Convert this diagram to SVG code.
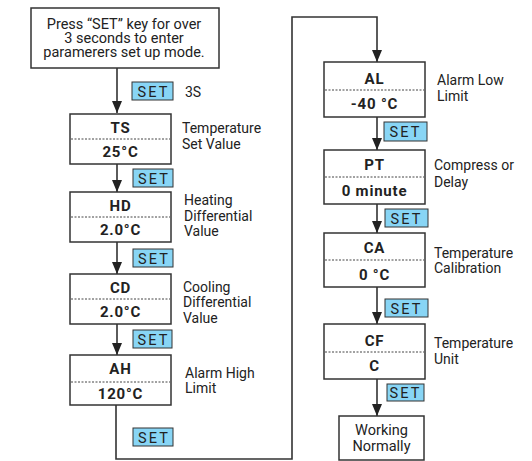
<svg xmlns="http://www.w3.org/2000/svg" width="532" height="461" viewBox="0 0 532 461">
<defs>
<style>
.box{fill:#fff;stroke:#333;stroke-width:1.5}
.dot{stroke:#444;stroke-width:1;stroke-dasharray:2 1.5}
.bt{font-family:Roboto,"Liberation Sans",sans-serif;font-weight:bold;font-size:15px;fill:#222;text-anchor:middle;letter-spacing:0.8px}
.lb{font-family:Roboto,"Liberation Sans",sans-serif;font-size:14px;fill:#222}
.tt{font-family:Roboto,"Liberation Sans",sans-serif;font-size:14.5px;fill:#222;text-anchor:middle}
.set{fill:#88d5f5;stroke:#333;stroke-width:1}
.st{font-family:Roboto,"Liberation Sans",sans-serif;font-size:14.5px;fill:#222;text-anchor:middle;letter-spacing:2.2px}
.ln{fill:none;stroke:#333;stroke-width:1.6}
</style>
<marker id="a" viewBox="0 0 12 10" refX="12" refY="5" markerWidth="12" markerHeight="10" orient="auto" markerUnits="userSpaceOnUse">
<path d="M0,0 L12,5 L0,10 z" fill="#222"/>
</marker>
</defs>
<g id="connectors">
<path class="ln" d="M117,68 V113" marker-end="url(#a)"/>
<path class="ln" d="M117,164 V192" marker-end="url(#a)"/>
<path class="ln" d="M117,242 V274" marker-end="url(#a)"/>
<path class="ln" d="M117,324 V355" marker-end="url(#a)"/>
<path class="ln" d="M116,405 V459 H292 V17 H377 V62" marker-end="url(#a)"/>
<path class="ln" d="M377,117 V150" marker-end="url(#a)"/>
<path class="ln" d="M377,204 V233" marker-end="url(#a)"/>
<path class="ln" d="M377,287 V324" marker-end="url(#a)"/>
<path class="ln" d="M377,379 V416" marker-end="url(#a)"/>
</g>
<g id="start">
<rect class="box" x="31" y="8" width="188" height="60"/>
<text class="tt" x="124" y="29">Press “SET” key for over</text>
<text class="tt" x="124" y="43">3 seconds to enter</text>
<text class="tt" x="124" y="57">paramerers set up mode.</text>
</g>
<g id="set1"><rect class="set" x="132" y="82" width="41" height="18"/><text class="st" x="153.5" y="96.5">SET</text></g>
<text class="lb" x="185" y="97">3S</text>
<g id="ts">
<rect class="box" x="70" y="114" width="101" height="50"/>
<line class="dot" x1="71" y1="139" x2="170" y2="139"/>
<text class="bt" x="120.5" y="133">TS</text>
<text class="bt" x="120.5" y="157">25°C</text>
<text class="lb" x="182" y="133">Temperature</text>
<text class="lb" x="182" y="149">Set Value</text>
</g>
<g id="set2"><rect class="set" x="133" y="169" width="40" height="18"/><text class="st" x="154" y="183.5">SET</text></g>
<g id="hd">
<rect class="box" x="70" y="192" width="101" height="50"/>
<line class="dot" x1="71" y1="217" x2="170" y2="217"/>
<text class="bt" x="120.5" y="211">HD</text>
<text class="bt" x="120.5" y="235">2.0°C</text>
<text class="lb" x="184" y="205">Heating</text>
<text class="lb" x="184" y="221">Differential</text>
<text class="lb" x="184" y="236">Value</text>
</g>
<g id="set3"><rect class="set" x="133" y="249" width="40" height="18"/><text class="st" x="154" y="263.5">SET</text></g>
<g id="cd">
<rect class="box" x="70" y="274" width="101" height="50"/>
<line class="dot" x1="71" y1="299" x2="170" y2="299"/>
<text class="bt" x="120.5" y="293">CD</text>
<text class="bt" x="120.5" y="317">2.0°C</text>
<text class="lb" x="183" y="292">Cooling</text>
<text class="lb" x="183" y="307">Differential</text>
<text class="lb" x="183" y="323">Value</text>
</g>
<g id="set4"><rect class="set" x="133" y="330" width="39" height="18"/><text class="st" x="153.5" y="344.5">SET</text></g>
<g id="ah">
<rect class="box" x="70" y="355" width="101" height="50"/>
<line class="dot" x1="71" y1="382" x2="170" y2="382"/>
<text class="bt" x="120.5" y="374">AH</text>
<text class="bt" x="120.5" y="399">120°C</text>
<text class="lb" x="185" y="378">Alarm High</text>
<text class="lb" x="185" y="393">Limit</text>
</g>
<g id="set5"><rect class="set" x="133" y="428" width="40" height="18"/><text class="st" x="154" y="442.5">SET</text></g>
<g id="al">
<rect class="box" x="324" y="62" width="101" height="55"/>
<line class="dot" x1="325" y1="90" x2="424" y2="90"/>
<text class="bt" x="374.5" y="84">AL</text>
<text class="bt" x="374.5" y="109">-40 °C</text>
<text class="lb" x="437" y="85">Alarm Low</text>
<text class="lb" x="437" y="101">Limit</text>
</g>
<g id="set6"><rect class="set" x="384" y="122" width="43" height="19"/><text class="st" x="405.5" y="136.5">SET</text></g>
<g id="pt">
<rect class="box" x="324" y="150" width="101" height="54"/>
<line class="dot" x1="325" y1="177" x2="424" y2="177"/>
<text class="bt" x="374.5" y="170">PT</text>
<text class="bt" x="374.5" y="196">0 minute</text>
<text class="lb" x="434" y="170">Compress or</text>
<text class="lb" x="434" y="187">Delay</text>
</g>
<g id="set7"><rect class="set" x="385" y="209" width="43" height="18"/><text class="st" x="406.5" y="223.5">SET</text></g>
<g id="ca">
<rect class="box" x="324" y="233" width="101" height="54"/>
<line class="dot" x1="325" y1="260" x2="424" y2="260"/>
<text class="bt" x="374.5" y="253">CA</text>
<text class="bt" x="374.5" y="280">0 °C</text>
<text class="lb" x="434" y="258">Temperature</text>
<text class="lb" x="434" y="273">Calibration</text>
</g>
<g id="set8"><rect class="set" x="385" y="299" width="43" height="18"/><text class="st" x="406.5" y="313.5">SET</text></g>
<g id="cf">
<rect class="box" x="324" y="324" width="101" height="55"/>
<line class="dot" x1="325" y1="352" x2="424" y2="352"/>
<text class="bt" x="374.5" y="346">CF</text>
<text class="bt" x="374.5" y="371">C</text>
<text class="lb" x="434" y="348">Temperature</text>
<text class="lb" x="434" y="364">Unit</text>
</g>
<g id="set9"><rect class="set" x="387" y="384" width="37" height="17"/><text class="st" x="405.5" y="397.5">SET</text></g>
<g id="working">
<rect class="box" x="339" y="416" width="85" height="44"/>
<text class="tt" x="381.5" y="435">Working</text>
<text class="tt" x="381.5" y="451">Normally</text>
</g>
</svg>
